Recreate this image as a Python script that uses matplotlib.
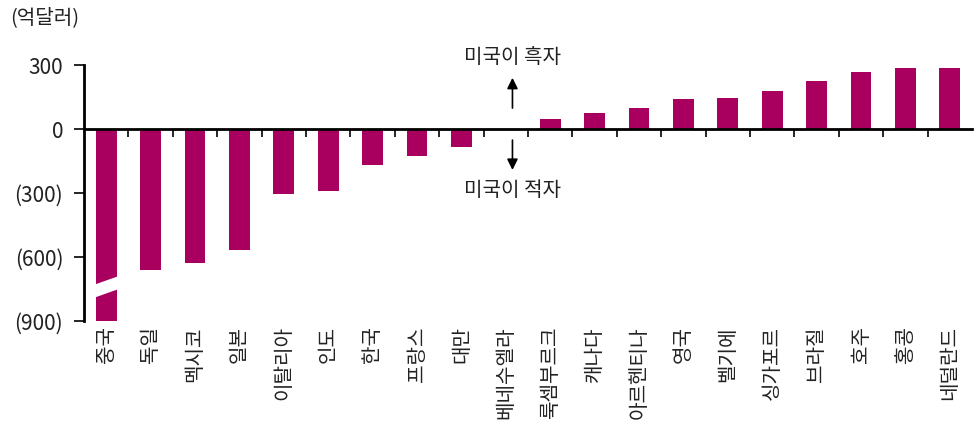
import matplotlib
matplotlib.use('Agg')
from matplotlib import pyplot as plt
from matplotlib.patches import Polygon
import numpy as np

plt.rcParams['font.family'] = ['Noto Sans CJK KR', 'DejaVu Sans']
plt.rcParams['font.weight'] = 'light'

countries = ['중국', '독일', '멕시코', '일본', '이탈리아', '인도', '한국', '프랑스', '대만',
             '베네수엘라', '룩셈부르크', '캐나다', '아르헨티나', '영국', '벨기에', '싱가포르',
             '브라질', '호주', '홍콩', '네덜란드']
balance = [-1200, -661, -627, -567, -305, -290, -169, -127, -83,
           0, 45, 76, 97, 142, 147, 178, 226, 269, 287, 287]
yticks = [300, 0, -300, -600, -900]
ytick_labels = ['300', '0', '(300)', '(600)', '(900)']

bar_color = '#A9005F'
txt_color = '#222222'

fig = plt.figure(figsize=(9.8, 4.3), dpi=100)
ax = fig.add_axes([84 / 980, 109 / 430, 888 / 980, 256 / 430])

x = np.arange(len(countries))
bars = ax.bar(x, balance, width=0.47, color=bar_color, zorder=2)

ax.set_xlim(-0.5, len(countries) - 0.5)
ax.set_ylim(-900, 300)

# axis break on the first bar (value off the scale)
b = bars[0]
bx0 = b.get_x() - 0.05
bx1 = b.get_x() + b.get_width() + 0.05
brk = Polygon([(bx0, -792), (bx1, -750), (bx1, -689), (bx0, -731)],
              closed=True, facecolor='white', edgecolor='none', zorder=3)
ax.add_patch(brk)

for s in ['top', 'right']:
    ax.spines[s].set_visible(False)
ax.spines['bottom'].set_position(('data', 0))
ax.spines['bottom'].set_linewidth(2)
ax.spines['bottom'].set_zorder(4)
ax.spines['left'].set_linewidth(2)

ax.set_xticks(x[:-1] + 0.5)
ax.set_xticklabels([])
ax.tick_params(axis='x', direction='out', length=6, width=1.2, color='black')

ax.set_yticks(yticks)
ax.set_yticklabels(ytick_labels, fontsize=15, color=txt_color)
ax.tick_params(axis='y', direction='out', length=7, width=1.2, pad=8)

for xi, name in zip(x, countries):
    ax.text(xi, -925, name, rotation=90, ha='center', va='top', fontsize=14.5,
            color=txt_color, clip_on=False)

fig.text(10 / 980, 1 - 18 / 430, '(억달러)', fontsize=14.5, color=txt_color, va='center', ha='left')

xa = 9.15
ax.text(xa, 333, '미국이 흑자', ha='center', va='center', fontsize=14.5, color=txt_color, clip_on=False)
ax.annotate('', xy=(xa, 240), xytext=(xa, 98),
            arrowprops=dict(arrowstyle='-|>', color='black', lw=1.2, mutation_scale=16,
                            shrinkA=0, shrinkB=0))
ax.text(xa, -286, '미국이 적자', ha='center', va='center', fontsize=14.5, color=txt_color)
ax.annotate('', xy=(xa, -192), xytext=(xa, -52),
            arrowprops=dict(arrowstyle='-|>', color='black', lw=1.2, mutation_scale=16,
                            shrinkA=0, shrinkB=0))

fig.savefig('out.png', dpi=100)
